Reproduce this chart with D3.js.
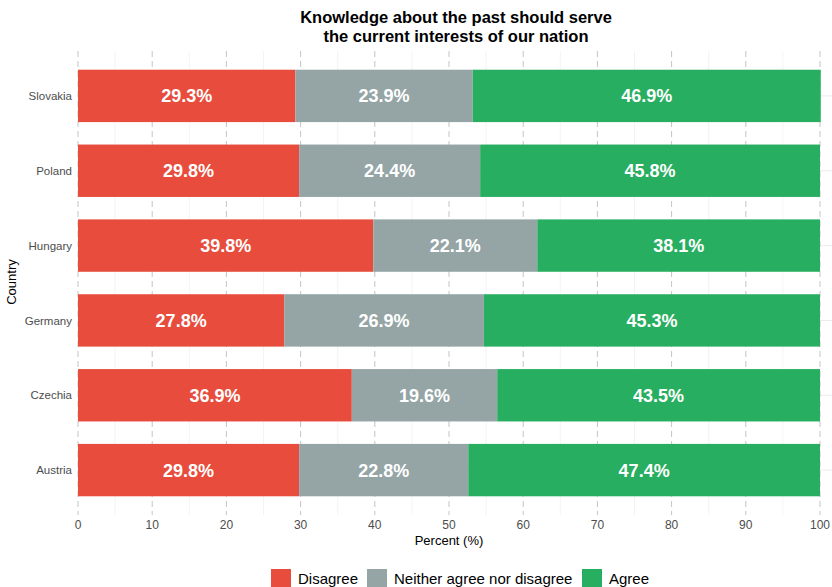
<!DOCTYPE html>
<html>
<head>
<meta charset="utf-8">
<script src="https://cdn.jsdelivr.net/npm/d3@7"></script>
<style>
  body { margin: 0; background: #fff; }
  svg { font-family: "Liberation Sans", Arial, Helvetica, sans-serif; }
</style>
</head>
<body>
<div id="chart"></div>
<script>
// データ
const countries = ["Slovakia", "Poland", "Hungary", "Germany", "Czechia", "Austria"];
const responses = ["Disagree", "Neither agree nor disagree", "Agree"];
const disagree = [29.3, 29.8, 39.8, 27.8, 36.9, 29.8];
const neither = [23.9, 24.4, 22.1, 26.9, 19.6, 22.8];
const agree = [46.9, 45.8, 38.1, 45.3, 43.5, 47.4];
const colors = ["#E74C3C", "#95A5A6", "#27AE60"];
const xTicks = [0, 10, 20, 30, 40, 50, 60, 70, 80, 90, 100];

const width = 832;
const height = 587;
const margin = { top: 51, right: 0, bottom: 72, left: 78 };

const svg = d3.select("#chart").append("svg")
  .attr("width", width)
  .attr("height", height);

// スケール
const xScale = d3.scaleLinear().domain([0, 100]).range([78, 820]);
const yScale = d3.scalePoint().domain(countries)
  .range([margin.top, height - margin.bottom])
  .padding(0.6);
const barH = yScale.step() * 0.7;

// グリッド (縦: 5刻みの細線、10刻みの破線)
const minor = d3.range(5, 100, 10);
svg.append("g").selectAll("line")
  .data(minor)
  .join("line")
  .attr("x1", d => xScale(d)).attr("x2", d => xScale(d))
  .attr("y1", margin.top).attr("y2", height - margin.bottom)
  .attr("stroke", "#ebebeb").attr("stroke-width", 0.6);

svg.append("g").selectAll("line")
  .data(countries)
  .join("line")
  .attr("x1", margin.left).attr("x2", width)
  .attr("y1", d => yScale(d))
  .attr("y2", d => yScale(d))
  .attr("stroke", "#ebebeb").attr("stroke-width", 1);

svg.append("g").selectAll("line")
  .data(xTicks)
  .join("line")
  .attr("x1", d => xScale(d)).attr("x2", d => xScale(d))
  .attr("y1", margin.top).attr("y2", height - margin.bottom)
  .attr("stroke", "#c4c4c4").attr("stroke-width", 1)
  .attr("stroke-dasharray", "6,4");

// 積み上げデータ
const rows = countries.map((c, i) => ({ country: c, Disagree: disagree[i], "Neither agree nor disagree": neither[i], Agree: agree[i] }));
const stacked = d3.stack().keys(responses)(rows);

const layers = svg.append("g").selectAll("g")
  .data(stacked)
  .join("g")
  .attr("fill", (d, i) => colors[i]);

layers.selectAll("rect")
  .data(d => d)
  .join("rect")
  .attr("x", d => xScale(d[0]))
  .attr("width", d => xScale(d[1]) - xScale(d[0]))
  .attr("y", d => yScale(d.data.country) - barH / 2)
  .attr("height", barH);

// ラベル
layers.selectAll("text")
  .data(d => d.map(v => ({ v, key: d.key })))
  .join("text")
  .attr("x", d => (xScale(d.v[0]) + xScale(d.v[1])) / 2)
  .attr("y", d => yScale(d.v.data.country))
  .attr("dy", "0.36em")
  .attr("text-anchor", "middle")
  .attr("fill", "#fff")
  .style("font-size", "18px")
  .style("font-weight", "bold")
  .text(d => d.v.data[d.key].toFixed(1) + "%");

// 軸
svg.append("g")
  .selectAll("text")
  .data(xTicks)
  .join("text")
  .attr("x", d => xScale(d))
  .attr("y", 529)
  .attr("text-anchor", "middle")
  .attr("fill", "#4d4d4d")
  .style("font-size", "12px")
  .text(d => d);

svg.append("g")
  .selectAll("text")
  .data(countries)
  .join("text")
  .attr("x", 72)
  .attr("y", d => yScale(d))
  .attr("dy", "0.36em")
  .attr("text-anchor", "end")
  .attr("fill", "#4d4d4d")
  .style("font-size", "11.5px")
  .text(d => d);

svg.append("text")
  .attr("x", 449).attr("y", 545)
  .attr("text-anchor", "middle")
  .style("font-size", "13px")
  .text("Percent (%)");

svg.append("text")
  .attr("transform", "translate(16,282) rotate(-90)")
  .attr("text-anchor", "middle")
  .style("font-size", "13px")
  .text("Country");

// タイトル
svg.append("text")
  .attr("x", 456).attr("y", 23)
  .attr("text-anchor", "middle")
  .style("font-size", "16.5px").style("font-weight", "bold")
  .text("Knowledge about the past should serve");
svg.append("text")
  .attr("x", 456).attr("y", 42)
  .attr("text-anchor", "middle")
  .style("font-size", "16.5px").style("font-weight", "bold")
  .text("the current interests of our nation");

// 凡例
const legendX = [271, 367, 582];
const legend = svg.append("g").selectAll("g")
  .data(responses)
  .join("g")
  .attr("transform", (d, i) => `translate(${legendX[i]}, 569)`);
legend.append("rect")
  .attr("width", 20).attr("height", 20)
  .attr("fill", (d, i) => colors[i]);
legend.append("text")
  .attr("x", 27).attr("y", 10)
  .attr("dy", "0.36em")
  .style("font-size", "15px")
  .text(d => d);
</script>
</body>
</html>
